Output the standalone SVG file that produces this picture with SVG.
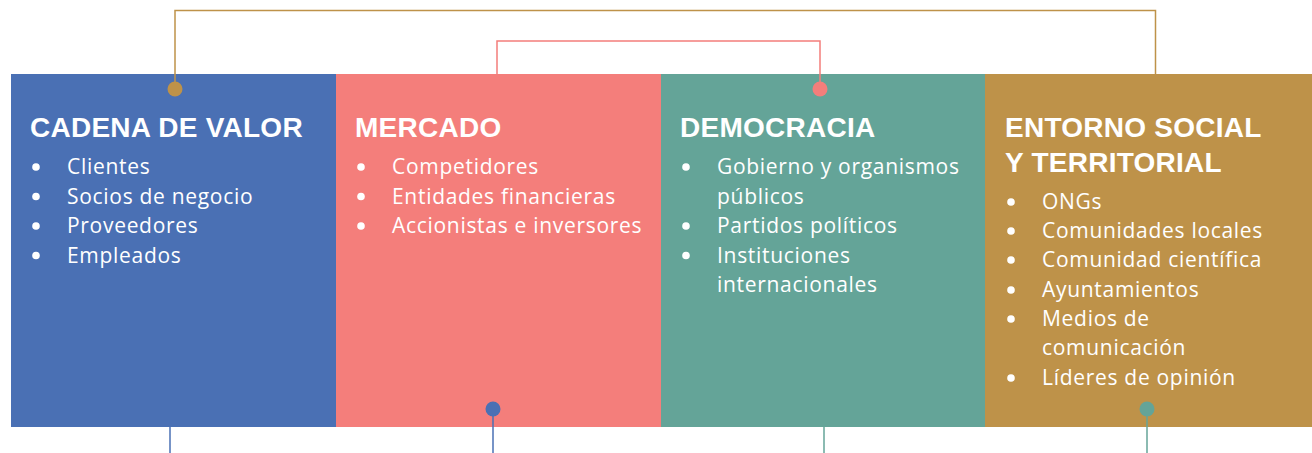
<svg xmlns="http://www.w3.org/2000/svg" width="1312" height="453" viewBox="0 0 1312 453">
<style>
.title{font-family:"Liberation Sans",Arial,sans-serif;font-weight:bold;font-size:28px;letter-spacing:0.25px;fill:#fff}
.item{font-family:"Open Sans","Noto Sans",sans-serif;font-size:21px;letter-spacing:0.7px;fill:#fff}
.bullet{fill:#fff}
.ln{fill:none;stroke-width:1.5}
</style>
<rect width="1312" height="453" fill="#fff"/>
<g id="node-cadena">
<rect x="11" y="74" width="325.5" height="353" fill="#4A70B4"/>
<text class="title" x="30" y="137">CADENA DE VALOR</text>
<circle class="bullet" cx="36" cy="167" r="3.8"/><text class="item" x="67" y="174">Clientes</text>
<circle class="bullet" cx="36" cy="196.5" r="3.8"/><text class="item" x="67" y="203.5">Socios de negocio</text>
<circle class="bullet" cx="36" cy="226" r="3.8"/><text class="item" x="67" y="233">Proveedores</text>
<circle class="bullet" cx="36" cy="255.5" r="3.8"/><text class="item" x="67" y="262.5">Empleados</text>
</g>
<g id="node-mercado">
<rect x="336" y="74" width="325.5" height="353" fill="#F47E7B"/>
<text class="title" x="355" y="137">MERCADO</text>
<circle class="bullet" cx="361" cy="167" r="3.8"/><text class="item" x="392" y="174">Competidores</text>
<circle class="bullet" cx="361" cy="196.5" r="3.8"/><text class="item" x="392" y="203.5">Entidades financieras</text>
<circle class="bullet" cx="361" cy="226" r="3.8"/><text class="item" x="392" y="233">Accionistas e inversores</text>
</g>
<g id="node-democracia">
<rect x="661" y="74" width="324.5" height="353" fill="#64A498"/>
<text class="title" x="680" y="137">DEMOCRACIA</text>
<circle class="bullet" cx="686" cy="167" r="3.8"/><text class="item" x="717" y="174">Gobierno y organismos</text>
<text class="item" x="717" y="203.5">públicos</text>
<circle class="bullet" cx="686" cy="226" r="3.8"/><text class="item" x="717" y="233">Partidos políticos</text>
<circle class="bullet" cx="686" cy="255.5" r="3.8"/><text class="item" x="717" y="262.5">Instituciones</text>
<text class="item" x="717" y="292">internacionales</text>
</g>
<g id="node-entorno">
<rect x="985" y="74" width="327" height="353" fill="#BE9249"/>
<text class="title" x="1005" y="137">ENTORNO SOCIAL</text>
<text class="title" x="1005" y="172">Y TERRITORIAL</text>
<circle class="bullet" cx="1011" cy="202" r="3.8"/><text class="item" x="1042" y="209">ONGs</text>
<circle class="bullet" cx="1011" cy="231" r="3.8"/><text class="item" x="1042" y="238">Comunidades locales</text>
<circle class="bullet" cx="1011" cy="260" r="3.8"/><text class="item" x="1042" y="267">Comunidad científica</text>
<circle class="bullet" cx="1011" cy="290" r="3.8"/><text class="item" x="1042" y="297">Ayuntamientos</text>
<circle class="bullet" cx="1011" cy="319" r="3.8"/><text class="item" x="1042" y="326">Medios de</text>
<text class="item" x="1042" y="355">comunicación</text>
<circle class="bullet" cx="1011" cy="378" r="3.8"/><text class="item" x="1042" y="385">Líderes de opinión</text>
</g>
<g id="connectors">
<polyline class="ln" stroke="#BE9249" points="175,89 175,10.5 1155.5,10.5 1155.5,74"/>
<circle cx="175" cy="89" r="7.5" fill="#BE9249"/>
<polyline class="ln" stroke="#F47E7B" points="497,74 497,41 820,41 820,89"/>
<circle cx="820" cy="89" r="7.5" fill="#F47E7B"/>
<line class="ln" stroke="#4A70B4" x1="170" y1="427" x2="170" y2="453"/>
<line class="ln" stroke="#4A70B4" x1="493" y1="409" x2="493" y2="453"/>
<circle cx="493" cy="409" r="7.5" fill="#4A70B4"/>
<line class="ln" stroke="#64A498" x1="824" y1="427" x2="824" y2="453"/>
<line class="ln" stroke="#64A498" x1="1147" y1="409" x2="1147" y2="453"/>
<circle cx="1147" cy="409" r="7.5" fill="#64A498"/>
</g>
</svg>
